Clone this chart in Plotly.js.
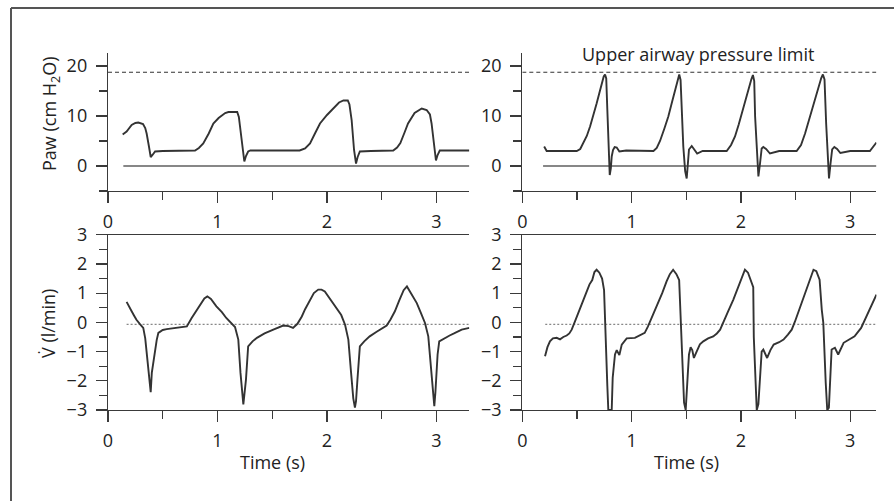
<!DOCTYPE html>
<html>
<head>
<meta charset="utf-8">
<script src="https://cdn.plot.ly/plotly-3.0.1.min.js"></script>
<style>html,body{margin:0;padding:0;background:#fff;}#chart{width:894px;height:501px;}</style>
</head>
<body>
<div id="chart"></div>
<script>
// ---------- data ----------
const timePawLeft = [0.134,0.17,0.216,0.25,0.277,0.32,0.34,0.353,0.374,0.39,0.41,0.43,0.5,0.6,0.7,0.795,0.83,0.87,0.92,0.962,1.01,1.07,1.1,1.18,1.195,1.205,1.226,1.245,1.26,1.28,1.3,1.5,1.75,1.8,1.845,1.89,1.936,2.0,2.06,2.11,2.15,2.19,2.205,2.225,2.247,2.265,2.28,2.3,2.4,2.5,2.605,2.64,2.67,2.71,2.74,2.8,2.865,2.91,2.94,2.955,2.965,2.98,2.995,3.01,3.03,3.15,3.3];
const pawLeft = [6.3,6.9,8.2,8.6,8.7,8.4,7.6,6.5,3.9,1.8,2.3,2.9,3.0,3.0,3.0,3.1,3.6,4.5,6.5,8.5,9.6,10.6,10.8,10.8,9.8,7.9,3.2,0.9,2.0,2.9,3.1,3.1,3.1,3.5,4.5,6.5,8.5,10.2,11.6,12.7,13.1,13.1,12.3,9.2,3.2,0.5,1.8,2.9,3.0,3.0,3.1,3.7,4.6,6.8,8.5,10.6,11.5,11.2,10.3,8.5,6.5,3.0,1.1,2.2,3.1,3.1,3.1];

const timePawRight = [0.2,0.223,0.3,0.4,0.498,0.53,0.558,0.59,0.62,0.65,0.68,0.705,0.726,0.745,0.757,0.768,0.778,0.787,0.8,0.81,0.818,0.83,0.845,0.864,0.888,0.95,1.05,1.2,1.23,1.26,1.3,1.336,1.37,1.397,1.42,1.436,1.448,1.458,1.473,1.49,1.504,1.515,1.525,1.55,1.575,1.6,1.65,1.75,1.87,1.91,1.946,1.98,2.007,2.04,2.07,2.095,2.11,2.122,2.13,2.145,2.16,2.175,2.19,2.205,2.23,2.266,2.35,2.51,2.55,2.587,2.62,2.648,2.68,2.71,2.735,2.75,2.765,2.78,2.795,2.806,2.82,2.835,2.855,2.88,2.91,3.0,3.18,3.21,3.24];
const pawRight = [3.9,3.0,3.0,3.0,3.0,3.4,4.5,6.0,7.9,10.0,12.5,14.6,16.5,17.9,18.3,17.5,11.2,5.2,-1.8,-0.5,1.9,3.2,3.8,3.7,2.9,3.1,3.0,3.0,3.6,5.0,7.5,9.9,12.8,15.2,17.5,18.3,17.2,10.5,3.9,-1.0,-2.5,0.5,3.3,4.0,3.3,2.5,3.0,3.0,3.0,4.2,5.9,8.3,10.5,13.0,15.2,17.3,18.2,17.0,9.9,3.0,-2.1,0.5,3.5,3.8,3.4,2.5,3.0,3.0,4.2,6.5,9.0,11.2,13.6,15.9,17.6,18.3,17.3,8.5,2.0,-2.5,0.5,3.3,3.8,3.4,2.6,3.0,3.0,3.8,4.7];

const timeFlowLeft = [0.17,0.19,0.216,0.24,0.26,0.29,0.322,0.34,0.353,0.368,0.38,0.39,0.4,0.415,0.43,0.445,0.46,0.5,0.536,0.6,0.65,0.72,0.764,0.8,0.84,0.88,0.907,0.94,0.99,1.04,1.08,1.12,1.16,1.19,1.21,1.236,1.25,1.26,1.28,1.32,1.36,1.43,1.51,1.6,1.65,1.69,1.73,1.77,1.8,1.845,1.88,1.92,1.95,1.98,2.03,2.09,2.13,2.165,2.195,2.22,2.24,2.255,2.265,2.278,2.29,2.3,2.34,2.39,2.45,2.5,2.545,2.58,2.62,2.66,2.7,2.73,2.76,2.79,2.82,2.86,2.895,2.925,2.94,2.955,2.968,2.98,2.99,3.0,3.01,3.025,3.07,3.12,3.16,3.23,3.3];
const flowLeft = [0.70,0.58,0.38,0.22,0.09,-0.05,-0.19,-0.55,-1.04,-1.6,-2.0,-2.39,-1.73,-1.3,-1.04,-0.6,-0.36,-0.26,-0.23,-0.2,-0.17,-0.14,0.15,0.35,0.6,0.82,0.89,0.8,0.55,0.35,0.15,0.0,-0.16,-0.59,-1.73,-2.81,-2.3,-1.96,-0.82,-0.65,-0.53,-0.38,-0.25,-0.11,-0.13,-0.19,-0.05,0.2,0.45,0.77,1.0,1.12,1.12,1.06,0.8,0.49,0.25,-0.08,-0.59,-1.73,-2.6,-2.92,-2.7,-1.96,-1.2,-0.82,-0.65,-0.48,-0.33,-0.2,-0.11,0.1,0.38,0.75,1.1,1.23,1.05,0.85,0.66,0.3,-0.02,-0.48,-1.16,-1.9,-2.5,-2.87,-2.4,-1.73,-1.1,-0.65,-0.55,-0.45,-0.38,-0.25,-0.19];

const timeFlowRight = [0.208,0.23,0.253,0.28,0.315,0.345,0.375,0.406,0.43,0.452,0.482,0.512,0.545,0.589,0.615,0.64,0.66,0.68,0.705,0.73,0.748,0.757,0.765,0.778,0.787,0.818,0.827,0.84,0.848,0.864,0.888,0.91,0.955,1.03,1.08,1.12,1.15,1.19,1.23,1.28,1.32,1.35,1.38,1.41,1.435,1.445,1.458,1.47,1.48,1.495,1.505,1.513,1.525,1.54,1.555,1.57,1.595,1.625,1.656,1.7,1.747,1.78,1.81,1.84,1.88,1.93,1.98,2.01,2.037,2.065,2.09,2.113,2.118,2.13,2.145,2.16,2.17,2.18,2.19,2.205,2.22,2.24,2.27,2.3,2.35,2.39,2.43,2.465,2.495,2.53,2.57,2.61,2.645,2.664,2.69,2.72,2.74,2.754,2.776,2.79,2.805,2.815,2.83,2.86,2.89,2.94,3.04,3.1,3.165,3.23,3.24];
const flowRight = [-1.16,-0.85,-0.65,-0.55,-0.53,-0.58,-0.5,-0.45,-0.38,-0.25,0.03,0.3,0.65,1.05,1.3,1.45,1.72,1.8,1.7,1.5,1.1,0.3,-0.6,-2.18,-3.0,-3.0,-1.9,-1.3,-1.1,-0.95,-1.12,-0.76,-0.55,-0.53,-0.45,-0.36,-0.14,0.2,0.6,1.0,1.4,1.65,1.8,1.65,1.45,0.6,-0.6,-1.9,-2.75,-3.0,-2.5,-1.84,-1.1,-0.85,-0.95,-1.22,-1.0,-0.75,-0.65,-0.55,-0.48,-0.38,-0.25,0.03,0.35,0.77,1.25,1.6,1.8,1.7,1.45,1.2,-0.5,-1.96,-3.0,-2.8,-2.3,-1.6,-1.0,-0.93,-1.04,-1.22,-0.95,-0.76,-0.68,-0.59,-0.42,-0.25,0.03,0.4,0.83,1.2,1.55,1.8,1.75,1.46,0.43,-0.02,-2.07,-3.0,-2.92,-2.18,-0.93,-0.87,-1.1,-0.7,-0.48,-0.19,0.32,0.89,0.95];

const pressureLimit = 18.75;           // dashed upper airway pressure limit
const pawZero = 0;                     // solid zero line
const flowZero = -0.07;                // dotted zero-flow line
const xEndLeft = 3.3, xEndRight = 3.24;
const zeroStartLeft = 0.14, zeroStartRight = 0.19;
const flowZeroStartLeft = 0.17, flowZeroStartRight = 0.21;

const xTicks = [0, 1, 2, 3];
const xTickLabels = ['0', '1', '2', '3'];
const pawTicks = [0, 10, 20];
const pawTickLabels = ['0', '10', '20'];
const flowTicks = [-3, -2, -1, 0, 1, 2, 3];
const flowTickLabels = ['\u22123', '\u22122', '\u22121', '0', '1', '2', '3'];

// ---------- layout helpers ----------
const W = 894, H = 501;
const px = v => v / W;
const py = v => 1 - v / H;
const FONT = 'Open Sans, Noto Sans, sans-serif';
const TXT = '#222';
const AX = '#3a3a3a';

function xAxis(domain, range, anchor, mirror) {
  return {
    domain: domain, range: range, anchor: anchor,
    tickmode: 'array', tickvals: xTicks, ticktext: xTickLabels,
    ticks: 'outside', ticklen: 11, tickwidth: 1.2, tickcolor: AX,
    minor: {dtick: 0.5, tick0: 0, ticks: 'outside', ticklen: 8, tickwidth: 1.2, tickcolor: AX, showgrid: false},
    showline: true, linecolor: AX, linewidth: 1.2, mirror: mirror,
    showgrid: false, zeroline: false, ticklabelstandoff: 3,
    tickfont: {family: FONT, size: 18, color: TXT}, fixedrange: true
  };
}
function yAxis(domain, range, anchor, vals, text, minorStep) {
  return {
    domain: domain, range: range, anchor: anchor,
    tickmode: 'array', tickvals: vals, ticktext: text,
    ticks: 'outside', ticklen: 11, tickwidth: 1.2, tickcolor: AX,
    minor: {dtick: minorStep, tick0: 0, ticks: 'outside', ticklen: 8, tickwidth: 1.2, tickcolor: AX, showgrid: false},
    showline: true, linecolor: AX, linewidth: 1.2,
    showgrid: false, zeroline: false, ticklabelstandoff: 5,
    tickfont: {family: FONT, size: 18, color: TXT}, fixedrange: true
  };
}

const leftDom = [px(108), px(108 + 109.5 * xEndLeft)];
const rightDom = [px(522.3), px(522.3 + 109.3 * xEndRight)];
const topDom = [py(191), py(53)];
const botDom = [py(410), py(234.7)];

const traceLine = {color: '#333', width: 1.9};
const data = [
  // top-left
  {x: [0, xEndLeft], y: [pressureLimit, pressureLimit], xaxis: 'x', yaxis: 'y', mode: 'lines', line: {color: '#333', width: 1.2, dash: '4px,3px'}},
  {x: [zeroStartLeft, xEndLeft], y: [pawZero, pawZero], xaxis: 'x', yaxis: 'y', mode: 'lines', line: {color: '#111', width: 1.2}},
  {x: timePawLeft, y: pawLeft, xaxis: 'x', yaxis: 'y', mode: 'lines', line: traceLine},
  // top-right
  {x: [0, xEndRight], y: [pressureLimit, pressureLimit], xaxis: 'x2', yaxis: 'y2', mode: 'lines', line: {color: '#333', width: 1.2, dash: '4px,3px'}},
  {x: [zeroStartRight, xEndRight], y: [pawZero, pawZero], xaxis: 'x2', yaxis: 'y2', mode: 'lines', line: {color: '#111', width: 1.2}},
  {x: timePawRight, y: pawRight, xaxis: 'x2', yaxis: 'y2', mode: 'lines', line: traceLine},
  // bottom-left
  {x: [flowZeroStartLeft, xEndLeft], y: [flowZero, flowZero], xaxis: 'x3', yaxis: 'y3', mode: 'lines', line: {color: '#888', width: 1.4, dash: '2px,2px'}},
  {x: timeFlowLeft, y: flowLeft, xaxis: 'x3', yaxis: 'y3', mode: 'lines', line: traceLine},
  // bottom-right
  {x: [flowZeroStartRight, xEndRight], y: [flowZero, flowZero], xaxis: 'x4', yaxis: 'y4', mode: 'lines', line: {color: '#888', width: 1.4, dash: '2px,2px'}},
  {x: timeFlowRight, y: flowRight, xaxis: 'x4', yaxis: 'y4', mode: 'lines', line: traceLine}
];
data.forEach(t => { t.hoverinfo = 'skip'; t.showlegend = false; });

const layout = {
  width: W, height: H,
  margin: {l: 0, r: 0, t: 0, b: 0},
  paper_bgcolor: '#fff', plot_bgcolor: 'rgba(0,0,0,0)',
  showlegend: false,
  xaxis: xAxis(leftDom, [0, xEndLeft], 'y', false),
  yaxis: yAxis(topDom, [-5, 22.6], 'x', pawTicks, pawTickLabels, 5),
  xaxis2: xAxis(rightDom, [0, xEndRight], 'y2', false),
  yaxis2: yAxis(topDom, [-5, 22.6], 'x2', pawTicks, pawTickLabels, 5),
  xaxis3: xAxis(leftDom, [0, xEndLeft], 'y3', true),
  yaxis3: yAxis(botDom, [-3, 3], 'x3', flowTicks, flowTickLabels, 0.5),
  xaxis4: xAxis(rightDom, [0, xEndRight], 'y4', true),
  yaxis4: yAxis(botDom, [-3, 3], 'x4', flowTicks, flowTickLabels, 0.5),
  shapes: [
    {type: 'line', xref: 'paper', yref: 'paper', x0: px(11), x1: 1.02, y0: py(8), y1: py(8), line: {color: '#555', width: 2}},
    {type: 'line', xref: 'paper', yref: 'paper', x0: px(11), x1: px(11), y0: py(8), y1: -0.02, line: {color: '#555', width: 2}}
  ],
  annotations: [
    {xref: 'paper', yref: 'paper', x: px(50), y: py(114), text: 'Paw (cm H<sub>2</sub>O)', textangle: -90, showarrow: false, xanchor: 'center', yanchor: 'middle', font: {family: FONT, size: 18, color: TXT}},
    {xref: 'paper', yref: 'paper', x: px(48), y: py(324), text: 'V\u0307 (l/min)', textangle: -90, showarrow: false, xanchor: 'center', yanchor: 'middle', font: {family: FONT, size: 18, color: TXT}},
    {xref: 'x3', yref: 'paper', x: 1.5, y: py(462), text: 'Time (s)', showarrow: false, xanchor: 'center', yanchor: 'middle', font: {family: FONT, size: 18, color: TXT}},
    {xref: 'x4', yref: 'paper', x: 1.5, y: py(462), text: 'Time (s)', showarrow: false, xanchor: 'center', yanchor: 'middle', font: {family: FONT, size: 18, color: TXT}},
    {xref: 'x2', yref: 'y2', x: 1.61, y: 22.4, text: 'Upper airway pressure limit', showarrow: false, xanchor: 'center', yanchor: 'middle', font: {family: FONT, size: 18, color: TXT}}
  ]
};

Plotly.newPlot('chart', data, layout, {staticPlot: true, displayModeBar: false});
</script>
</body>
</html>
